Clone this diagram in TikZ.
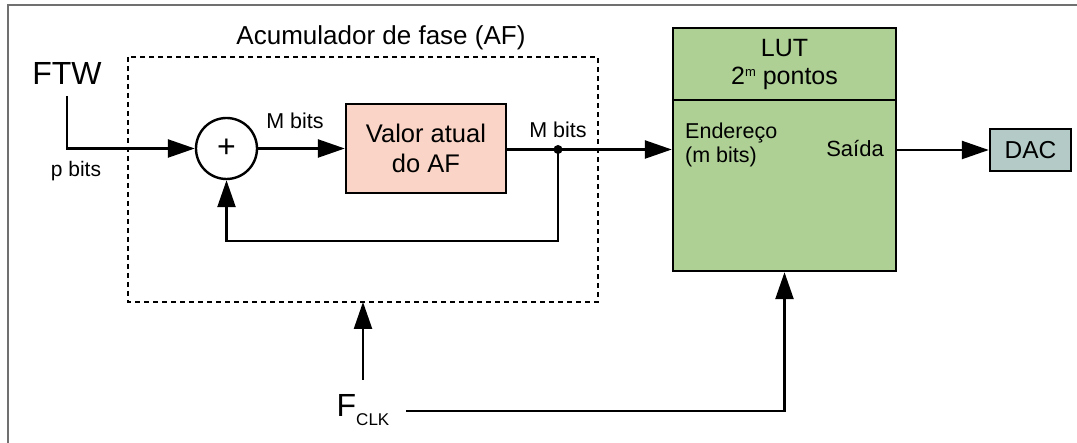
\documentclass[tikz,border=0pt]{standalone}
\usepackage{fontspec}
\setmainfont{Liberation Sans}
\usetikzlibrary{arrows.meta}
\definecolor{framegray}{HTML}{707070}
\definecolor{pinkfill}{HTML}{FAD4C6}
\definecolor{lutgreen}{HTML}{AED095}
\definecolor{dacfill}{HTML}{B3CAC6}
\newcommand{\fsz}[1]{\fontsize{#1}{#1}\selectfont}
\tikzset{
  wire/.style={line width=2.4pt, draw=black},
  arr/.style={wire, -{Triangle[length=27pt,width=18pt]}},
  blockbox/.style={draw=black, line width=2.4pt, inner sep=0pt, align=center},
  lbl/.style={inner sep=0pt, align=left},
}
\begin{document}
\begin{tikzpicture}[x=1pt,y=-1pt]
\useasboundingbox (0,0) rectangle (1077,443);
% outer frame (top and left edges)
\draw[framegray, line width=2.5pt] (8,443) -- (8,5) -- (1077,5);

% phase accumulator enclosure
\draw[line width=2.5pt, dash pattern=on 5pt off 4pt] (128,57) rectangle (598,302);
\node[lbl, font=\fsz{26}] (acclbl) at (381,38) {Acumulador de fase (AF)};

% input word
\node[lbl, font=\fsz{32}] (ftw) at (67,73) {FTW};
\coordinate (ftwstart) at (67,96);
\node[lbl, font=\fsz{21}] (pbits) at (76,171) {p bits};

% adder
\node[circle, draw=black, line width=2.4pt, minimum size=61pt, inner sep=0pt, font=\fsz{32}] (sum) at (226.5,148.5) {+};

% accumulator register
\node[blockbox, fill=pinkfill, minimum width=160pt, minimum height=89pt, font=\fsz{25.5}] (val) at (426,148.5) {Valor atual\\[4pt]do AF};
\node[lbl, font=\fsz{21.5}] (mbits1) at (295,121) {M bits};
\node[lbl, font=\fsz{21.5}] (mbits2) at (558,130) {M bits};

% look-up table
\node[blockbox, fill=lutgreen, minimum width=223pt, minimum height=243pt] (lut) at (784.5,149.5) {};
\draw[line width=2.4pt] (lut.west |- 0,100) -- (lut.east |- 0,100);
\node[lbl, align=center, font=\fsz{25}] (luttitle) at (784.5,64) {LUT\\[3pt]2{\fsz{13}\raisebox{8pt}{m}} pontos};
\node[lbl, anchor=west, font=\fsz{21.5}] (addr) at (685,145) {Endereço\\[3pt](m bits)};
\node[lbl, font=\fsz{22}] (out) at (855,149) {Saída};

% converter
\node[blockbox, fill=dacfill, minimum width=81pt, minimum height=42pt, font=\fsz{24.5}] (dac) at (1030.5,150) {DAC};

% clock
\node[lbl, font=\fsz{32}] (fclk) at (363,410) {F\raisebox{-9pt}{\fsz{17}CLK}};
\coordinate (clkup) at (363,380);
\coordinate (accbot) at (363,302);
\coordinate (clkright) at (406,411);

% signal paths
\draw[arr] (ftwstart) |- (sum.west);
\draw[arr] (sum.east) -- (val.west);
\coordinate (tap) at (558,149.5);
\draw[wire] (val.east |- tap) -- (tap);
\draw[arr] (tap) -- (lut.west |- tap);
\fill (tap) circle (4.5pt);
\coordinate (fbturn) at (558,241);
\draw[arr] (tap) -- (fbturn) -| (sum.south);
\draw[arr] (lut.east |- dac.west) -- (dac.west);
\draw[arr] (clkup) -- (accbot);
\draw[arr] (clkright) -| (lut.south);
\end{tikzpicture}
\end{document}
